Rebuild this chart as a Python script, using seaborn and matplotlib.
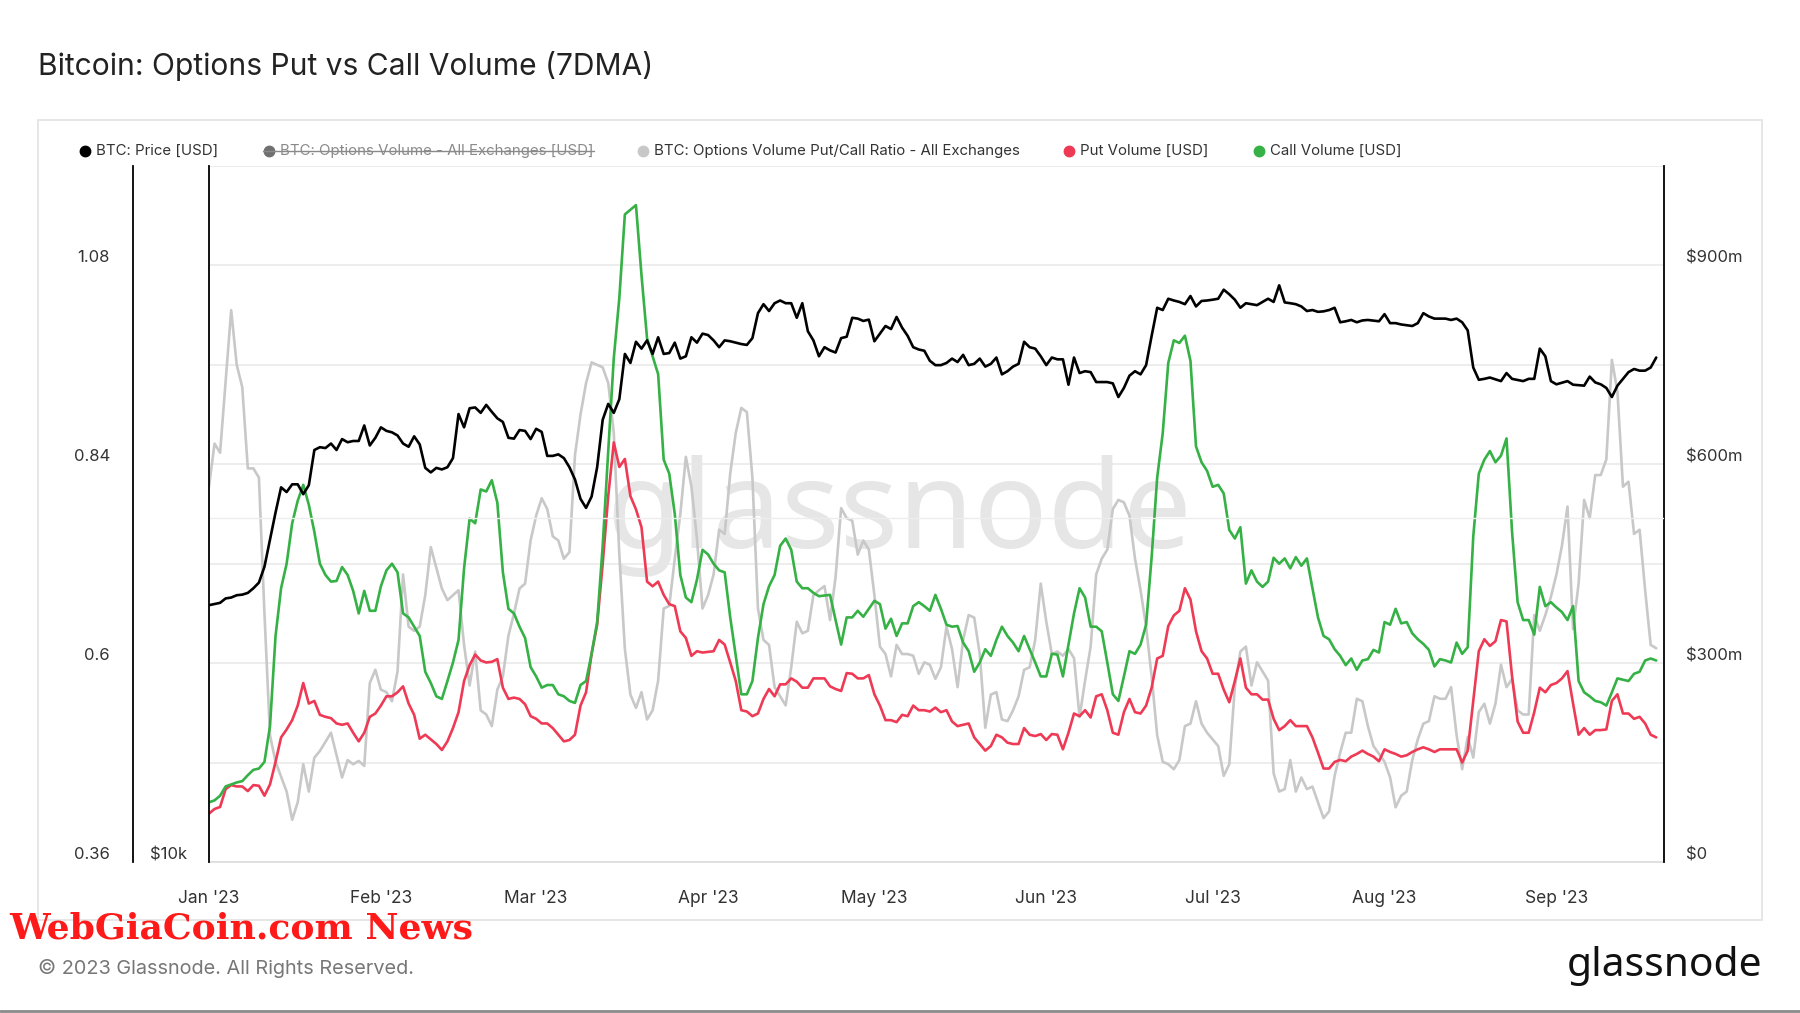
import numpy as np
import pandas as pd
import matplotlib
matplotlib.use("Agg")
import matplotlib.pyplot as plt
import matplotlib.dates as mdates
import seaborn as sns
from matplotlib.ticker import FixedLocator, NullLocator, FixedFormatter
from matplotlib.patches import Rectangle
from matplotlib.lines import Line2D

START = pd.Timestamp("2023-01-01")

# ---------------- data (day offset from 2023-01-01) ----------------
price_day = list(range(0, 95)) + list(range(96, 210)) + [
    211, 212, 213, 214, 215, 217, 218, 219, 220, 221, 223, 224, 225, 226, 227, 228,
    229, 230, 231, 233, 234, 235, 237, 238, 239, 240, 241, 242, 243, 245, 246] + list(range(248, 262))
price_k = [
    16.77, 16.81, 16.85, 17.00, 17.03, 17.11, 17.13, 17.19, 17.35, 17.55,
    18.12, 19.14, 20.21, 21.26, 21.06, 21.39, 21.39, 20.97, 21.35, 22.92,
    23.05, 23.01, 23.22, 22.92, 23.43, 23.28, 23.34, 23.34, 24.08, 23.13,
    23.49, 23.99, 23.82, 23.75, 23.60, 23.22, 23.07, 23.56, 23.18, 22.11,
    21.91, 22.11, 22.04, 22.14, 22.55, 24.64, 23.99, 24.93, 24.97, 24.70,
    25.10, 24.75, 24.43, 24.25, 23.49, 23.45, 23.86, 23.82, 23.43, 23.92,
    23.77, 22.65, 22.65, 22.72, 22.55, 22.14, 21.60, 20.77, 20.40, 20.87,
    22.14, 24.36, 25.15, 24.70, 25.39, 27.81, 27.31, 28.50, 28.11, 28.58,
    27.81, 28.76, 27.81, 27.86, 28.45, 27.55, 27.68, 28.76, 28.45, 28.97,
    28.89, 28.58, 28.19, 28.58, 28.53,
    28.37, 28.32, 28.71, 30.19,
    30.74, 30.32, 30.80, 30.97, 30.80, 30.80, 29.91, 30.80, 29.11, 28.58,
    27.68, 28.19, 28.01, 27.89, 28.71, 28.79, 29.91, 29.86, 29.72, 29.80,
    28.53, 28.97, 29.42, 29.24, 29.96, 29.32, 28.84, 28.19, 28.06, 27.99,
    27.43, 27.19, 27.19, 27.31, 27.55, 27.36, 27.76, 27.19, 27.26, 27.55,
    27.11, 27.26, 27.61, 26.69, 26.86, 27.11, 27.26, 28.50, 28.19, 28.11,
    27.68, 27.19, 27.61, 27.51, 27.51, 26.14, 27.61, 26.76, 26.86, 26.81,
    26.28, 26.28, 26.28, 26.21, 25.50, 25.97, 26.62, 26.86, 26.69, 27.19,
    28.84, 30.52, 30.38, 31.08, 30.97, 30.88, 30.74, 31.25, 30.60, 30.94,
    30.97, 31.02, 31.08, 31.65, 31.36, 31.02, 30.52, 30.80, 30.74, 30.68,
    30.88, 31.08, 30.88, 31.93, 30.85, 30.80, 30.74, 30.60, 30.32, 30.38,
    30.27, 30.30, 30.38, 30.52, 29.64, 29.70, 29.78, 29.64, 29.75, 29.78,
    29.70, 30.13, 29.59, 29.59, 29.51,
    29.42, 29.59, 30.19, 29.99, 29.86,
    29.86, 29.78, 29.86, 29.64, 29.16, 27.06, 26.40, 26.45, 26.52,
    26.33, 26.76, 26.45,
    26.33, 26.45, 26.45, 28.11, 27.68, 26.33, 26.16,
    26.33, 26.14,
    26.09, 26.57, 26.26, 26.16, 25.97, 25.50, 26.09, 26.45, 26.81, 26.98, 26.89, 26.89, 27.06, 27.61]

call_day = list(range(0, 111)) + list(range(112, 262))
call_m = [
    90, 93, 100, 114, 117, 120, 122, 131, 139, 141,
    151, 205, 341, 413, 450, 511, 545, 569, 539, 498,
    450, 433, 423, 424, 445, 433, 409, 375, 409, 379,
    379, 416, 440, 450, 437, 375, 369, 355, 341, 287,
    270, 250, 246, 273, 301, 335, 443, 518, 511, 562,
    559, 576, 542, 437, 382, 375, 355, 338, 294, 280,
    263, 267, 267, 253, 250, 243, 240, 267, 273, 314,
    362, 477, 620, 760, 851, 977, 984, 991, 885, 790,
    763, 736, 607, 586, 525, 433, 399, 392, 426, 471,
    464, 450, 440, 437, 369, 311, 253, 253, 273, 338,
    389, 416, 433, 477, 488, 471, 423, 413, 413, 406, 401,
    403, 365, 328, 369, 369, 379, 370, 382,
    394, 389, 352, 367, 341, 360, 360, 386, 392, 386,
    379, 403, 382, 358, 355, 356, 331, 318, 287, 301,
    321, 311, 335, 355, 341, 331, 318, 341, 321, 301,
    280, 280, 314, 313, 280, 328, 375, 413, 399, 355,
    355, 348, 301, 253, 243, 280, 318, 314, 328, 358,
    460, 580, 647, 753, 787, 783, 794, 756, 627, 603,
    590, 566, 569, 556, 501, 488, 505, 420, 440, 423,
    415, 423, 459, 450, 458, 443, 460, 447, 458, 413,
    369, 341, 336, 321, 311, 297, 307, 290, 304, 306,
    320, 316, 362, 358, 382, 360, 362, 345, 336, 329,
    320, 295, 306, 304, 301, 331, 314, 324, 491, 586,
    607, 620, 603, 613, 639, 498, 392, 365, 365, 343,
    415, 386, 392, 384, 377, 365, 386, 273, 256, 250,
    243, 241, 236, 256, 277, 275, 273, 284, 287, 304, 307, 304]

put_day = list(range(0, 90)) + list(range(91, 110)) + list(range(111, 136)) + list(range(137, 262))
put_m = [
    73, 80, 83, 110, 116, 114, 114, 107, 116, 115,
    100, 117, 151, 188, 200, 214, 236, 270, 239, 243,
    222, 219, 217, 209, 207, 209, 195, 182, 195, 219,
    224, 236, 250, 250, 256, 265, 239, 222, 186, 192,
    185, 178, 169, 182, 202, 226, 273, 297, 313, 304,
    301, 302, 306, 263, 246, 248, 246, 238, 220, 216,
    209, 209, 202, 192, 182, 184, 192, 236, 256, 314,
    358, 450, 552, 633, 596, 608, 552, 532, 505, 423,
    416, 423, 403, 389, 386, 348, 338, 311, 318, 316,
    318, 335, 328, 301, 273, 229, 227, 220, 224,
    246, 261, 250, 268, 268, 277, 272, 263, 263, 277,
    277, 265, 261, 258, 285, 284, 277, 277, 282,
    253, 236, 214, 214, 211, 222, 220, 236, 229, 229,
    227, 233, 226, 229, 212, 205,
    209, 188, 178,
    168, 175, 192, 188, 180, 178, 178, 202, 192, 190,
    193, 184, 193, 192, 170, 195, 224, 220, 229, 218,
    250, 253, 229, 195, 192, 226, 246, 226, 224, 236,
    263, 307, 311, 356, 372, 379, 413, 396, 348, 318,
    307, 284, 284, 260, 241, 273, 307, 263, 253, 253,
    245, 245, 216, 199, 205, 214, 205, 205, 205, 188,
    165, 141, 141, 151, 154, 152, 159, 163, 168, 163,
    159, 152, 170, 166, 163, 159, 161, 166, 170, 173,
    170, 166, 170, 170, 170, 170, 150, 168, 243, 318,
    336, 326, 333, 365, 363, 280, 212, 195, 195, 226,
    263, 256, 267, 270, 277, 288, 239, 192, 202, 192,
    199, 199, 200, 243, 253, 224, 224, 216, 219, 209, 192, 188]

ratio_day = [0, 1, 2, 4, 5, 6, 7, 8, 9, 10, 11, 12, 14, 15, 16, 17, 18, 19, 20, 22,
             24, 25, 26, 27, 28, 29, 30, 31, 32, 33, 34, 35, 36, 37, 38, 39, 40, 41, 42, 43,
             45, 46, 47, 48, 49, 50, 51, 52, 53, 54, 55, 56, 57, 58, 59, 60, 61, 62, 63, 64,
             65, 66, 67, 68, 69] + list(range(71, 211)) + list(range(212, 262))
ratio = [
    0.813, 0.865, 0.854, 1.026, 0.960, 0.933, 0.835, 0.835, 0.824, 0.660, 0.513, 0.481, 0.445, 0.411, 0.432, 0.478, 0.445, 0.486, 0.494, 0.516,
    0.462, 0.483, 0.478, 0.482, 0.476, 0.576, 0.592, 0.568, 0.565, 0.554, 0.590, 0.707, 0.644, 0.639, 0.644, 0.682, 0.740, 0.715, 0.690, 0.676,
    0.688, 0.622, 0.573, 0.614, 0.543, 0.538, 0.524, 0.568, 0.584, 0.633, 0.660, 0.690, 0.696, 0.748, 0.778, 0.799, 0.786, 0.753, 0.748, 0.726,
    0.734, 0.851, 0.900, 0.938, 0.963,
    0.957, 0.938, 0.878, 0.731, 0.617, 0.562, 0.546, 0.565, 0.532,
    0.543, 0.579, 0.666, 0.669, 0.726, 0.780, 0.849, 0.813, 0.750, 0.666,
    0.682, 0.707, 0.761, 0.756, 0.829, 0.878, 0.908, 0.903, 0.824, 0.666,
    0.628, 0.622, 0.571, 0.560, 0.549, 0.595, 0.650, 0.636, 0.639, 0.682,
    0.688, 0.693, 0.652, 0.704, 0.787, 0.775, 0.772, 0.731, 0.748, 0.737,
    0.682, 0.620, 0.611, 0.584, 0.622, 0.611, 0.611, 0.609, 0.587, 0.601,
    0.598, 0.581, 0.595, 0.644, 0.617, 0.571, 0.628, 0.658, 0.655, 0.611,
    0.522, 0.562, 0.565, 0.532, 0.530, 0.543, 0.560, 0.592, 0.595, 0.628,
    0.696, 0.650, 0.611, 0.614, 0.609, 0.617, 0.606, 0.535, 0.579, 0.620,
    0.707, 0.726, 0.737, 0.786, 0.797, 0.794, 0.778, 0.726, 0.688, 0.644,
    0.584, 0.513, 0.481, 0.478, 0.472, 0.483, 0.524, 0.527, 0.554, 0.527,
    0.516, 0.508, 0.500, 0.464, 0.478, 0.571, 0.614, 0.620, 0.573, 0.601,
    0.590, 0.579, 0.467, 0.445, 0.448, 0.483, 0.445, 0.462, 0.448, 0.451,
    0.432, 0.413, 0.421, 0.464, 0.492, 0.516, 0.516, 0.557, 0.554, 0.524,
    0.500,
    0.481, 0.462, 0.426, 0.440, 0.445, 0.483, 0.508, 0.527,
    0.530, 0.560, 0.557, 0.557, 0.571, 0.513, 0.472, 0.511, 0.486, 0.541,
    0.551, 0.527, 0.551, 0.598, 0.571, 0.581, 0.543, 0.538, 0.538, 0.658,
    0.639, 0.658, 0.680, 0.707, 0.742, 0.789, 0.641, 0.696, 0.797, 0.775,
    0.827, 0.827, 0.846, 0.966, 0.928, 0.813, 0.819, 0.756, 0.761, 0.688, 0.622, 0.618]

assert len(price_day) == len(price_k)
assert len(call_day) == len(call_m)
assert len(put_day) == len(put_m)
assert len(ratio_day) == len(ratio)

ratio_ticks = [0.36, 0.6, 0.84, 1.08]
ratio_labels = ["0.36", "0.6", "0.84", "1.08"]
volume_ticks = [0, 300, 600, 900]
volume_labels = ["$0", "$300m", "$600m", "$900m"]

C_PRICE = "#000000"
C_RATIO = "#c8c8c8"
C_PUT = "#ee3a55"
C_CALL = "#35b145"


def frame(days, vals, scale=1.0):
    return pd.DataFrame({"date": START + pd.to_timedelta(days, unit="D"),
                         "v": np.asarray(vals, dtype=float) * scale})


df_price = frame(price_day, price_k, 1000.0)
df_call = frame(call_day, call_m)
df_put = frame(put_day, put_m)
df_ratio = frame(ratio_day, ratio)

# ---------------- figure ----------------
sns.set_theme(style="white")
plt.rcParams["font.family"] = ["Inter", "DejaVu Sans"]

W, H = 1800, 1013
fig = plt.figure(figsize=(18, 10.13), dpi=100)
fig.patch.set_facecolor("white")


def fx(px):
    return px / W


def fy(py):
    return 1 - py / H


# outer panel
fig.add_artist(Rectangle((fx(38), fy(920)), fx(1762) - fx(38), fy(120) - fy(920),
                         transform=fig.transFigure, facecolor="white",
                         edgecolor="#e4e4e4", lw=1.3, zorder=-5))

L, R, T, B = 209, 1664, 166, 862
ax_r = fig.add_axes([fx(L), fy(B), fx(R) - fx(L), fy(T) - fy(B)])
ax_r.set_facecolor("none")
ax_v = ax_r.twinx()
ax_p = ax_r.twinx()

# watermark
ax_r.text(0.474, 0.497, "glassnode", transform=ax_r.transAxes, ha="center", va="center",
          fontsize=88, color="#e6e6e6", zorder=0, family=["Noto Sans", "DejaVu Sans"])

sns.lineplot(data=df_ratio, x="date", y="v", ax=ax_r, color=C_RATIO, lw=1.9, zorder=3)
sns.lineplot(data=df_put, x="date", y="v", ax=ax_v, color=C_PUT, lw=1.9)
sns.lineplot(data=df_call, x="date", y="v", ax=ax_v, color=C_CALL, lw=1.9)
sns.lineplot(data=df_price, x="date", y="v", ax=ax_p, color=C_PRICE, lw=1.9)

xmin = START
xmax = START + pd.Timedelta(days=262.4)
for a in (ax_r, ax_v, ax_p):
    a.set_xlim(xmin, xmax)
    a.set_xlabel("")
    a.set_ylabel("")

# ratio axis (left, outer)
ax_r.set_ylim(0.36, 1.2)
ax_r.yaxis.set_major_locator(FixedLocator(ratio_ticks))
ax_r.yaxis.set_major_formatter(FixedFormatter(ratio_labels))
ax_r.yaxis.set_minor_locator(FixedLocator([0.48, 0.72, 0.96, 1.2]))
ax_r.grid(True, axis="y", which="both", color="#e8e8e8", lw=1.1)
ax_r.grid(False, axis="x")
ax_r.set_axisbelow(True)
ax_r.spines["left"].set_position(("outward", (L - 133) * 72 / 100))
ax_r.spines["left"].set_color("black")
ax_r.spines["left"].set_linewidth(1.3)
ax_r.spines["bottom"].set_color("#dcdcdc")
ax_r.spines["bottom"].set_linewidth(1.2)
ax_r.spines["top"].set_visible(False)
ax_r.spines["right"].set_visible(False)
ax_r.tick_params(axis="y", which="both", length=0, pad=16.5, labelsize=12, labelcolor="#333333")

# x axis
ax_r.xaxis.set_major_locator(mdates.MonthLocator())
ax_r.xaxis.set_major_formatter(mdates.DateFormatter("%b '%y"))
ax_r.tick_params(axis="x", which="major", length=11, width=1.1, color="#e2e2e2",
                 direction="out", pad=9, labelsize=12.5, labelcolor="#333333")

# volume axis (right)
ax_v.set_ylim(0, 1050)
ax_v.yaxis.set_major_locator(FixedLocator(volume_ticks))
ax_v.yaxis.set_major_formatter(FixedFormatter(volume_labels))
ax_v.yaxis.set_minor_locator(NullLocator())
ax_v.grid(False)
for s in ("left", "top", "bottom"):
    ax_v.spines[s].set_visible(False)
ax_v.spines["right"].set_color("black")
ax_v.spines["right"].set_linewidth(1.3)
ax_v.tick_params(axis="y", length=0, pad=15.8, labelsize=12, labelcolor="#333333")

# price axis (left, inner, log)
ax_p.set_yscale("log")
ax_p.set_ylim(10000, 40600)
ax_p.yaxis.tick_left()
ax_p.yaxis.set_major_locator(FixedLocator([10000]))
ax_p.yaxis.set_major_formatter(FixedFormatter(["$10k"]))
ax_p.yaxis.set_minor_locator(NullLocator())
ax_p.grid(False)
for s in ("right", "top", "bottom"):
    ax_p.spines[s].set_visible(False)
ax_p.spines["left"].set_visible(True)
ax_p.spines["left"].set_color("black")
ax_p.spines["left"].set_linewidth(1.3)
ax_p.tick_params(axis="y", length=0, pad=15.8, labelsize=12, labelcolor="#333333")
ax_p.axhline(20000, color="#ededed", lw=1.0, zorder=0)

for a in (ax_r, ax_v, ax_p):
    plt.setp(a.get_yticklabels(), va="bottom")

# title
fig.text(fx(38), fy(66), "Bitcoin: Options Put vs Call Volume (7DMA)", fontsize=21.6,
         color="#222222", va="center", ha="left", fontweight="normal")

# legend (manual, single row)
leg_y = fy(151)
items = [
    (85, C_PRICE, "BTC: Price [USD]", "#333333", False),
    (269, "#707070", "BTC: Options Volume - All Exchanges [USD]", "#8a8a8a", True),
    (643, C_RATIO, "BTC: Options Volume Put/Call Ratio - All Exchanges", "#333333", False),
    (1069, C_PUT, "Put Volume [USD]", "#333333", False),
    (1259, C_CALL, "Call Volume [USD]", "#333333", False),
]
leg_texts = []
for x, mc, label, tc, strike in items:
    fig.add_artist(Line2D([fx(x)], [leg_y], marker="o", ms=7.5, color=mc, lw=0,
                          transform=fig.transFigure))
    t = fig.text(fx(x + 11), leg_y, label, color=tc, fontsize=10.8, va="center", ha="left")
    leg_texts.append((t, strike, x))

# footer texts
fig.text(fx(9), fy(928), "WebGiaCoin.com News", fontsize=26, color="#ff1a1a",
         fontweight="bold", family=["DejaVu Serif"], va="center", ha="left")
fig.text(fx(38), fy(968), "\u00a9 2023 Glassnode. All Rights Reserved.", fontsize=14.3,
         color="#777777", va="center", ha="left")
fig.text(fx(1762), fy(966), "glassnode", fontsize=29.3, color="#111111", va="center",
         ha="right", fontweight="medium", family=["Noto Sans", "DejaVu Sans"])

# bottom rule
fig.add_artist(Line2D([0, 1], [fy(1011), fy(1011)], color="#8a8a8a", lw=2.0,
                      transform=fig.transFigure))

# strikethrough for the hidden series in the legend
fig.canvas.draw()
for t, strike, x in leg_texts:
    if strike:
        bb = t.get_window_extent()
        ymid = bb.y0 + bb.height * 0.5
        fig.add_artist(Line2D([fx(x - 6), bb.x1 / W], [ymid / H, ymid / H],
                              color="#8a8a8a", lw=1.0, transform=fig.transFigure))

fig.savefig("out.png", dpi=100, facecolor="white")
